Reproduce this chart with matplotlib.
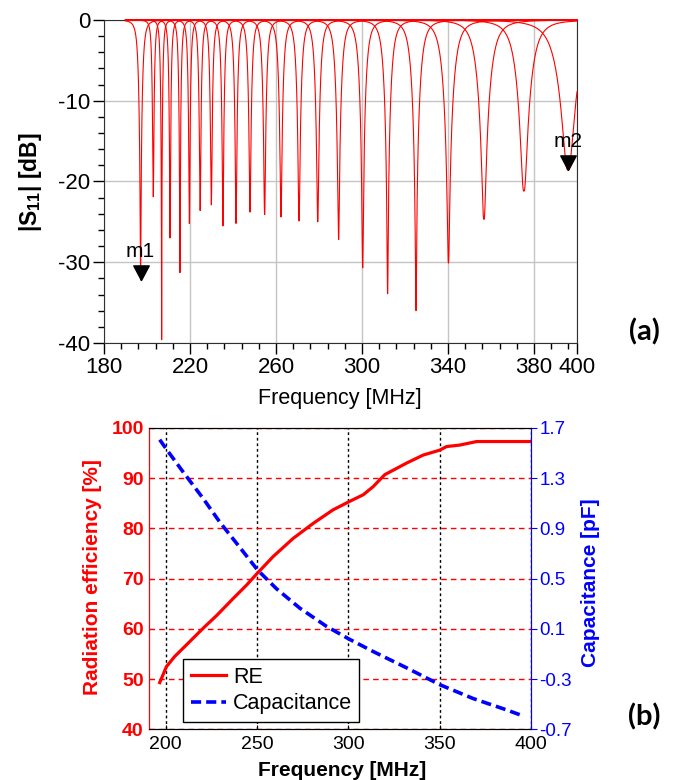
import matplotlib
matplotlib.use("Agg")
import matplotlib.pyplot as plt
import numpy as np

plt.rcParams['font.family'] = ['Liberation Sans', 'DejaVu Sans']
plt.rcParams['axes.unicode_minus'] = False
plt.rcParams['mathtext.fontset'] = 'custom'
plt.rcParams['mathtext.rm'] = 'Liberation Sans'
plt.rcParams['mathtext.bf'] = 'Liberation Sans:bold'
plt.rcParams['mathtext.it'] = 'Liberation Sans:italic'

# (a) S11 resonances: centre frequency [MHz], depth [dB], loaded Q
res_freq = [197.0, 202.9, 206.8, 210.7, 215.3, 219.7, 224.7, 229.9, 235.3, 241.4, 247.9, 254.7,
            262.3, 270.7, 279.4, 289.1, 300.3, 311.9, 325.1, 340.2, 356.7, 375.3, 395.8]
res_depth = [-32.2, -21.9, -39.6, -27.0, -31.3, -25.2, -23.6, -22.9, -25.5, -25.2, -23.8, -24.1,
             -24.4, -24.9, -25.0, -27.2, -30.7, -33.9, -36.0, -30.1, -24.7, -21.2, -18.6]
res_q = [55, 95, 100, 95, 92, 89, 84, 82, 78, 73, 71, 67,
         62, 60, 58, 53, 50, 48, 42, 35, 31, 29, 22]

markers = ['m1', 'm2']
marker_freq = [197.0, 395.8]
marker_db = [-32.2, -18.6]

# (b) radiation efficiency and capacitance vs frequency
re_freq = [196.7, 200.4, 204.9, 211.3, 220.4, 227.7, 236.8, 244.2, 250.2, 258.8, 269.7, 280.7,
           291.6, 300.2, 308.1, 313.5, 319.9, 331.8, 340.9, 350.1, 353.7, 361.0, 370.2, 380.0,
           390.0, 400.0]
re_val = [49.3, 52.5, 54.5, 56.8, 60.1, 62.6, 66.0, 68.7, 71.1, 74.4, 78.0, 81.0,
          83.7, 85.3, 86.7, 88.3, 90.7, 93.0, 94.6, 95.6, 96.3, 96.6, 97.3, 97.3,
          97.3, 97.3]
cap_freq = [196.7, 200.4, 209.5, 220.4, 229.6, 240.5, 250.2, 260.6, 273.4, 288.0, 300.2,
            313.5, 331.8, 350.1, 368.3, 386.5, 395.7]
cap_val = [1.607, 1.53, 1.35, 1.14, 0.95, 0.75, 0.57, 0.42, 0.265, 0.12, 0.02,
           -0.08, -0.21, -0.345, -0.455, -0.545, -0.594]

fig = plt.figure(figsize=(6.79, 7.80), dpi=100)

# ---------- (a) ----------
ax1 = fig.add_axes([0.1532, 0.5603, 0.6966, 0.4141])
f = np.arange(190.0, 400.001, 0.02)
for f0, d, q in zip(res_freq, res_depth, res_q):
    g2 = 10 ** (d / 10)
    y = f / f0 - f0 / f
    v = (q * np.abs(y)) ** 1.32
    s11 = 10 * np.log10((g2 + v ** 2) / (1 + v ** 2))
    ax1.plot(f, s11, color='#ff0000', lw=0.8, zorder=3, clip_on=False)

tri = [(0, 0), (-0.53, 1), (0.53, 1), (0, 0)]
for name, mf, md in zip(markers, marker_freq, marker_db):
    ax1.plot([mf], [md], marker=tri, markersize=21, color='k', ls='none', zorder=4, clip_on=False)
    ax1.annotate(name, (mf, md), xytext=(0, 14), textcoords='offset points',
                 ha='center', va='bottom', fontsize=15, zorder=5)

ax1.set_xlim(180, 400)
ax1.set_ylim(-40, 0)
ax1.set_xticks([180, 220, 260, 300, 340, 380, 400])
ax1.set_xticks(np.arange(188, 400, 8), minor=True)
ax1.set_yticks([0, -10, -20, -30, -40])
ax1.set_yticks(np.arange(-38, 0, 2), minor=True)
ax1.tick_params(which='major', direction='out', length=8, width=1, labelsize=16, pad=2)
ax1.tick_params(which='minor', direction='out', length=4, width=1)
ax1.grid(True, which='major', color='#c4c4c4', lw=1)
for s in ax1.spines.values():
    s.set_color('#303030')
fig.text(30 / 679, 1 - 182 / 780, r'$\mathbf{|S_{11}|\ [dB]}$', rotation=90,
         ha='center', va='center', fontsize=16.5)
fig.text(340 / 679, 1 - 399 / 780, 'Frequency [MHz]', ha='center', va='center', fontsize=15.5)
fig.text(644 / 679, 1 - 332 / 780, '(a)', ha='center', va='center', fontsize=21,
         fontweight='bold', family='Lato')

# ---------- (b) ----------
ax2 = fig.add_axes([0.2199, 0.0650, 0.5622, 0.3863])
ax3 = ax2.twinx()
l1, = ax2.plot(re_freq, re_val, color='#ff0000', lw=2.3, label='RE')
l2, = ax3.plot(cap_freq, cap_val, color='#0000ff', lw=2.6, label='Capacitance')
l2.set_dashes([2.8, 1.4])

ax2.set_xlim(191, 400)
ax2.set_ylim(40, 100)
ax3.set_ylim(-0.7, 1.7)
ax2.set_xticks([200, 250, 300, 350, 400])
ax2.set_yticks(np.arange(40, 101, 10))
ax3.set_yticks(np.round(np.arange(-0.7, 1.71, 0.4), 1))
ax3.set_yticklabels(['%.1f' % t for t in np.arange(-0.7, 1.71, 0.4)])
ax2.grid(True, axis='x', color='k', ls=(0, (2, 2)), lw=1)
ax2.grid(True, axis='y', color='#ff0000', ls=(0, (4, 3)), lw=1)

ax2.tick_params(axis='x', direction='in', length=3, labelsize=14, pad=5)
ax2.tick_params(axis='y', direction='in', length=3, colors='#ff0000', labelsize=14, pad=4)
for lab in ax2.get_yticklabels():
    lab.set_fontweight('bold')
ax3.tick_params(axis='y', direction='out', length=4, colors='#0000ff', labelsize=13.5, pad=2)
for a in (ax2, ax3):
    a.spines['left'].set_color('#ff0000')
    a.spines['right'].set_color('#0000ff')
    a.spines['top'].set_color('k')
    a.spines['bottom'].set_color('k')

fig.text(92 / 679, 1 - 577 / 780, 'Radiation efficiency [%]', rotation=90,
         ha='center', va='center', fontsize=15, color='#ff0000', fontweight='bold')
fig.text(590 / 679, 1 - 583 / 780, 'Capacitance [pF]', rotation=90,
         ha='center', va='center', fontsize=15, color='#0000ff', fontweight='bold')
fig.text(342 / 679, 1 - 770 / 780, 'Frequency [MHz]', ha='center', va='center',
         fontsize=15, fontweight='bold')
fig.text(644 / 679, 1 - 717 / 780, '(b)', ha='center', va='center', fontsize=21,
         fontweight='bold', family='Lato')

leg = ax3.legend(handles=[l1, l2], loc='lower left', bbox_to_anchor=(0.089, 0.025),
                 borderaxespad=0, fontsize=15.5, fancybox=False, edgecolor='k',
                 framealpha=1, handlelength=1.65, borderpad=0.35, labelspacing=0.25,
                 handletextpad=0.3)
leg.get_frame().set_linewidth(1)

fig.savefig('out.png', dpi=100)
